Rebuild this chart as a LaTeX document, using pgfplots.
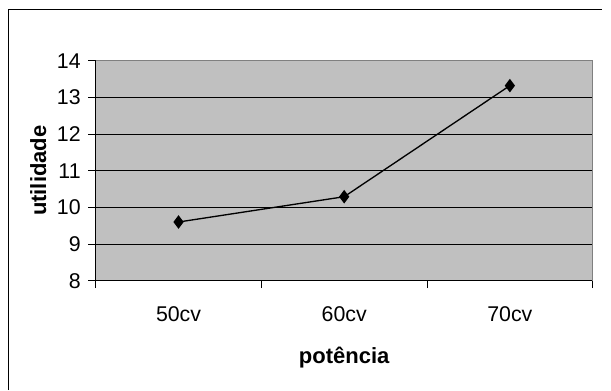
\documentclass[border=0pt]{standalone}
\usepackage{fontspec}
\setmainfont{Liberation Sans}
\usepackage{pgfplots}
\pgfplotsset{compat=1.18}
\definecolor{plotbg}{HTML}{C0C0C0}
\definecolor{frameg}{HTML}{808080}
\begin{document}
\begin{tikzpicture}
\useasboundingbox (0,0) rectangle (458.25pt,-292.5pt);
\draw[line width=0.75pt] (6.23pt,-292.5pt) -- (6.23pt,-6.98pt) -- (451.5pt,-6.98pt);
\begin{axis}[
  at={(71.78pt,-210.5pt)}, anchor=south west,
  scale only axis, width=372.75pt, height=165pt,
  xmin=0.5, xmax=3.5, ymin=8, ymax=14,
  xtick={1,2,3}, xticklabels={50cv,60cv,70cv},
  minor xtick={0.5,1.5,2.5,3.5},
  ytick={8,9,10,11,12,13,14},
  axis lines=left, axis line style={-, line width=0.75pt, black},
  tick align=outside,
  major tick length=5.5pt, minor tick length=5.5pt,
  every tick/.style={black, line width=0.75pt},
  x tick style={draw=none},
  minor x tick style={draw=black, line width=0.75pt},
  ymajorgrids, major grid style={black, line width=0.75pt},
  axis background/.style={fill=plotbg},
  /pgf/number format/assume math mode=true,
  tick label style={font=\fontsize{16}{19}\selectfont},
  yticklabel style={anchor=east, inner sep=0pt, xshift=-5.6pt},
  xticklabel style={anchor=north, inner sep=0pt, yshift=-14pt},
  xlabel={potência}, ylabel={utilidade},
  label style={font=\fontsize{16.5}{19}\selectfont\bfseries},
  xlabel style={at={(axis description cs:0.5,-0.35)}, anchor=center},
  ylabel style={at={(axis description cs:-0.1154,0.5)}, anchor=center, rotate=0},
  clip=false,
]
\draw[frameg, line width=0.75pt] (rel axis cs:0,1) -- (rel axis cs:1,1) -- (rel axis cs:1,0);
\addplot[black, line width=1pt, mark=diamond*, mark size=4.3pt, mark options={solid, fill=black}]
  coordinates {(1,9.6) (2,10.29) (3,13.32)};
\end{axis}
\end{tikzpicture}
\end{document}
